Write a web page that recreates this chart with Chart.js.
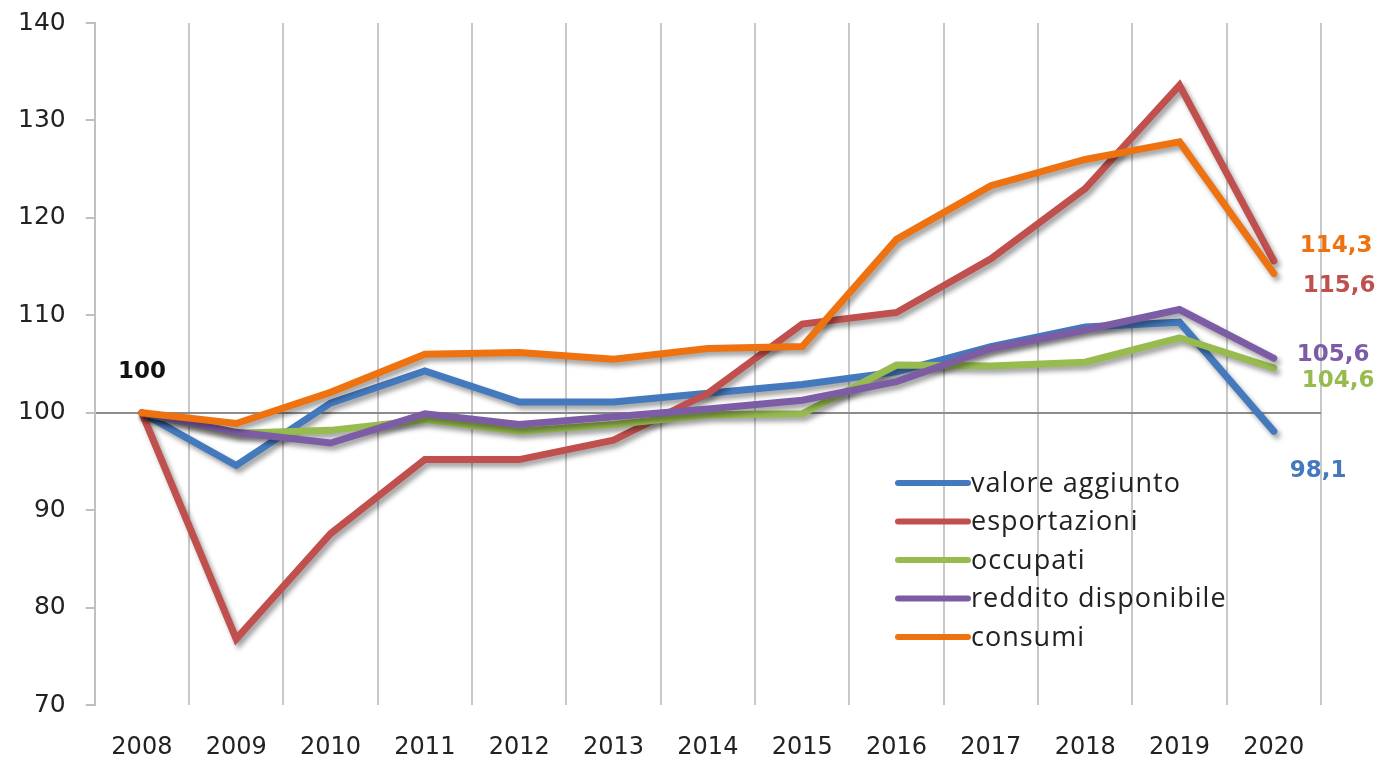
<!DOCTYPE html>
<html>
<head>
<meta charset="utf-8">
<script src="https://cdn.jsdelivr.net/npm/chart.js@4/dist/chart.umd.min.js"></script>
<style>
  html, body { margin: 0; padding: 0; background: #fff; }
  #wrap { width: 1379px; height: 761px; }
</style>
</head>
<body>
<div id="wrap"><canvas id="chart" width="1379" height="761"></canvas></div>
<script>
// dati (indice 2008 = 100)
var anni = ['2008', '2009', '2010', '2011', '2012', '2013', '2014', '2015', '2016', '2017', '2018', '2019', '2020'];
var valoreAggiunto = [100, 94.6, 101.0, 104.3, 101.1, 101.1, 102.0, 102.9, 104.2, 106.8, 108.8, 109.3, 98.1];
var esportazioni = [100, 76.8, 87.6, 95.2, 95.2, 97.2, 102.0, 109.1, 110.3, 115.8, 123.0, 133.6, 115.6];
var occupati = [100, 97.9, 98.2, 99.3, 98.1, 98.8, 99.8, 99.9, 104.9, 104.8, 105.2, 107.7, 104.6];
var redditoDisponibile = [100, 98.0, 96.9, 99.9, 98.8, 99.6, 100.4, 101.3, 103.2, 106.6, 108.5, 110.6, 105.6];
var consumi = [100, 98.9, 102.1, 106.0, 106.2, 105.5, 106.6, 106.8, 117.8, 123.3, 126.0, 127.8, 114.3];
var yTicks = [70, 80, 90, 100, 110, 120, 130, 140];

// nomi, colori, etichette finali
var serie = [
    { nome: 'valore aggiunto', dati: valoreAggiunto, colore: '#4479BE', etichetta: '98,1' },
    { nome: 'esportazioni', dati: esportazioni, colore: '#C0504D', etichetta: '115,6' },
    { nome: 'occupati', dati: occupati, colore: '#97BB4F', etichetta: '104,6' },
    { nome: 'reddito disponibile', dati: redditoDisponibile, colore: '#7D5CA6', etichetta: '105,6' },
    { nome: 'consumi', dati: consumi, colore: '#EE7310', etichetta: '114,3' }
];
// spostamento delle etichette rispetto all'ultimo punto (px)
var offsetEtichette = [[16, 40], [29, 25], [28, 13], [23, -3], [26, -27]];

// ombra sotto le linee
var ombra = {
    id: 'ombra',
    beforeDatasetDraw: function(chart) {
        var ctx = chart.ctx;
        ctx.save();
        ctx.shadowColor = 'rgba(0,0,0,0.38)';
        ctx.shadowBlur = 5;
        ctx.shadowOffsetX = 3;
        ctx.shadowOffsetY = 4;
    },
    afterDatasetDraw: function(chart) {
        chart.ctx.restore();
    }
};

// etichette dati + legenda dentro il grafico
var etichette = {
    id: 'etichette',
    afterDatasetsDraw: function(chart) {
        var ctx = chart.ctx;
        ctx.save();
        ctx.font = 'bold 23px "DejaVu Sans", sans-serif';
        ctx.textBaseline = 'middle';

        // "100" sopra il primo punto
        var p0 = chart.getDatasetMeta(0).data[0];
        ctx.fillStyle = '#111';
        ctx.textAlign = 'center';
        ctx.fillText('100', p0.x, p0.y - 41);

        ctx.textAlign = 'left';
        serie.forEach(function(s, i) {
            var meta = chart.getDatasetMeta(i);
            var p = meta.data[meta.data.length - 1];
            ctx.fillStyle = s.colore;
            ctx.fillText(s.etichetta, p.x + offsetEtichette[i][0], p.y + offsetEtichette[i][1]);
        });

        // legenda
        var lx = 898, ly = 483, passo = 38.5;
        ctx.font = '27px "Open Sans", sans-serif';
        ctx.letterSpacing = '1px';
        serie.forEach(function(s, i) {
            var y = ly + i * passo;
            ctx.strokeStyle = s.colore;
            ctx.lineWidth = 6;
            ctx.lineCap = 'round';
            ctx.beginPath();
            ctx.moveTo(lx, y);
            ctx.lineTo(lx + 70, y);
            ctx.stroke();
            ctx.fillStyle = '#222';
            ctx.fillText(s.nome, lx + 73, y + 1);
        });
        ctx.restore();
    }
};

var datasets = serie.map(function(s, i) {
    return {
        label: s.nome,
        data: s.dati,
        borderColor: s.colore,
        backgroundColor: s.colore,
        borderWidth: 7,
        borderCapStyle: 'round',
        pointRadius: 0,
        tension: 0,
        order: serie.length - i   // consumi sopra, come in Excel
    };
});

var ctx = document.getElementById('chart').getContext('2d');
var grafico = new Chart(ctx, {
    type: 'line',
    data: { labels: anni, datasets: datasets },
    plugins: [ombra, etichette],
    options: {
        responsive: false,
        animation: false,
        layout: { padding: { left: 10, right: 58, top: 0, bottom: -29 } },
        plugins: {
            legend: { display: false },
            tooltip: { enabled: false }
        },
        scales: {
            x: {
                offset: true,
                grid: {
                    offset: true,
                    color: '#c8c8c8',
                    lineWidth: 2,
                    drawTicks: false
                },
                border: { display: false },
                ticks: {
                    color: '#222',
                    padding: 28,
                    font: { family: '"DejaVu Sans"', size: 24 }
                }
            },
            y: {
                min: 70,
                max: 140,
                afterBuildTicks: function(scale) {
                    scale.ticks = yTicks.map(function(v) { return { value: v }; });
                },
                grid: {
                    color: function(c) { return c.tick && c.tick.value === 100 ? '#8c8c8c' : 'rgba(0,0,0,0)'; },
                    lineWidth: 2,
                    tickColor: '#c0c0c0',
                    tickLength: 21,
                    tickBorderDash: [9, 12],
                    tickBorderDashOffset: 9
                },
                border: { display: true, color: '#c0c0c0', width: 2 },
                ticks: {
                    color: '#222',
                    padding: 8,
                    font: { family: '"DejaVu Sans"', size: 25 }
                }
            }
        }
    }
});
</script>
</body>
</html>
